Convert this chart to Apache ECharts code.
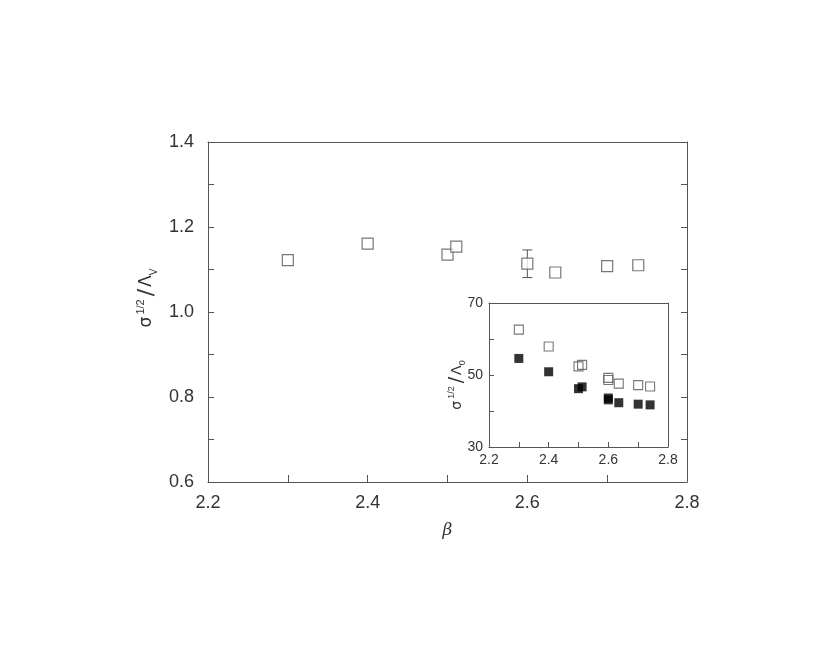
<!DOCTYPE html>
<html>
<head>
<meta charset="utf-8">
<script src="https://cdn.jsdelivr.net/npm/echarts@6/dist/echarts.min.js"></script>
<style>html,body{margin:0;padding:0;background:#fff;}#c{width:836px;height:646px;}</style>
</head>
<body>
<div id="c"></div>
<script>
// ---- data ----
var betaMain = [2.30, 2.40, 2.50, 2.511, 2.60, 2.635, 2.70, 2.739];
var ratioMain = [1.122, 1.161, 1.135, 1.154, 1.114, 1.093, 1.108, 1.110];
var errBeta = [2.60];
var errLow = [1.081];
var errHigh = [1.146];
var insetBeta = [2.30, 2.40, 2.50, 2.512, 2.60, 2.60, 2.635, 2.70, 2.74];
var insetOpen = [62.6, 57.9, 52.4, 52.8, 49.2, 48.6, 47.6, 47.2, 46.8];
var insetFilled = [54.6, 50.9, 46.2, 46.7, 43.6, 43.1, 42.3, 41.9, 41.7];
var mainXTicks = [2.2, 2.4, 2.6, 2.8];
var mainYTicks = [0.6, 0.8, 1.0, 1.2, 1.4];
var insetXTicks = [2.2, 2.4, 2.6, 2.8];
var insetYTicks = [30, 50, 70];

function zip(a, b) { return a.map(function (v, i) { return [v, b[i]]; }); }

var frame = '#555';
var txt = '#333';
var font = 'Liberation Sans';

function xAx(gridIndex, min, max, interval, fs, margin, tickLen, show) {
  return {
    gridIndex: gridIndex, type: 'value', min: min, max: max, interval: interval,
    axisLine: { show: true, onZero: false, lineStyle: { color: frame, width: 1 } },
    axisTick: { show: true, inside: true, length: tickLen, lineStyle: { color: frame } },
    minorTick: { show: true, splitNumber: 2, length: tickLen, lineStyle: { color: frame } },
    splitLine: { show: false },
    axisLabel: { show: show, color: txt, fontSize: fs, fontFamily: font, margin: margin,
      formatter: function (v) { return v.toFixed(1); } }
  };
}
function yAx(gridIndex, min, max, interval, fs, margin, tickLen, pos, show, fmt, ticks) {
  return {
    gridIndex: gridIndex, type: 'value', min: min, max: max, interval: interval, position: pos,
    axisLine: { show: true, onZero: false, lineStyle: { color: frame, width: 1 } },
    axisTick: { show: ticks, inside: true, length: tickLen, lineStyle: { color: frame } },
    minorTick: { show: ticks, splitNumber: 2, length: tickLen, lineStyle: { color: frame } },
    splitLine: { show: false },
    axisLabel: { show: show, color: txt, fontSize: fs, fontFamily: font, margin: margin, formatter: fmt }
  };
}

var chart = echarts.init(document.getElementById('c'), null, { renderer: 'canvas' });
var option = {
  animation: false,
  backgroundColor: '#fff',
  grid: [
    { left: 208, top: 142, width: 479, height: 340 },
    { left: 489, top: 303, width: 179, height: 144 }
  ],
  xAxis: [
    Object.assign(xAx(0, mainXTicks[0], mainXTicks[mainXTicks.length - 1], 0.2, 18, 12, 7, true), {
      name: 'β', nameLocation: 'middle', nameGap: 40,
      nameTextStyle: { fontFamily: 'DejaVu Serif', fontStyle: 'italic', fontSize: 17, color: txt }
    }),
    Object.assign(xAx(0, 2.2, 2.8, 0.2, 18, 12, 7, false), { position: 'top', axisTick: { show: false }, minorTick: { show: false } }),
    xAx(1, insetXTicks[0], insetXTicks[insetXTicks.length - 1], 0.2, 14, 6, 5, true),
    Object.assign(xAx(1, 2.2, 2.8, 0.2, 14, 6, 5, false), { position: 'top', axisTick: { show: false }, minorTick: { show: false } })
  ],
  yAxis: [
    yAx(0, mainYTicks[0], mainYTicks[mainYTicks.length - 1], 0.2, 18, 14, 6, 'left', true, function (v) { return v.toFixed(1); }, true),
    yAx(0, 0.6, 1.4, 0.2, 18, 14, 6, 'right', false, null, true),
    yAx(1, insetYTicks[0], insetYTicks[insetYTicks.length - 1], 20, 14, 6, 5, 'left', true, function (v) { return v % 20 === 10 ? String(v) : ''; }, true),
    yAx(1, 30, 70, 20, 14, 6, 5, 'right', false, null, false)
  ],
  graphic: [
    {
      type: 'text', x: 147, y: 298, rotation: Math.PI / 2,
      style: {
        text: '{s|σ}{sup|1/2}{sl|/}{s|Λ}{sub|V}',
        align: 'center', verticalAlign: 'middle', fill: txt,
        rich: {
          s: { fontSize: 17, fontFamily: 'DejaVu Sans', fill: txt, lineHeight: 24, verticalAlign: 'middle' },
          sup: { fontSize: 11, fontFamily: font, fill: txt, lineHeight: 24, verticalAlign: 'top', padding: [0, 3, 0, 2] },
          sl: { fontSize: 22, fontFamily: 'DejaVu Sans', fill: txt, lineHeight: 24, verticalAlign: 'middle', padding: [0, 2, 0, 0] },
          sub: { fontSize: 10, fontFamily: font, fill: txt, lineHeight: 24, verticalAlign: 'bottom' }
        }
      }
    },
    {
      type: 'text', x: 457, y: 385, rotation: Math.PI / 2,
      style: {
        text: '{s|σ}{sup|1/2}{sl|/}{s|Λ}{sub|0}',
        align: 'center', verticalAlign: 'middle', fill: txt,
        rich: {
          s: { fontSize: 14, fontFamily: 'DejaVu Sans', fill: txt, lineHeight: 20, verticalAlign: 'middle' },
          sup: { fontSize: 9, fontFamily: font, fill: txt, lineHeight: 20, verticalAlign: 'top', padding: [0, 3, 0, 2] },
          sl: { fontSize: 19, fontFamily: 'DejaVu Sans', fill: txt, lineHeight: 20, verticalAlign: 'middle', padding: [0, 2, 0, 0] },
          sub: { fontSize: 9, fontFamily: font, fill: txt, lineHeight: 20, verticalAlign: 'bottom' }
        }
      }
    }
  ],
  series: [
    {
      type: 'custom', xAxisIndex: 0, yAxisIndex: 0, z: 3,
      data: errBeta.map(function (b, i) { return [b, errLow[i], errHigh[i]]; }),
      renderItem: function (params, api) {
        var lo = api.coord([api.value(0), api.value(1)]);
        var hi = api.coord([api.value(0), api.value(2)]);
        var w = 5;
        return {
          type: 'group',
          children: [
            { type: 'line', shape: { x1: lo[0], y1: lo[1], x2: hi[0], y2: hi[1] }, style: { stroke: frame, lineWidth: 1 } },
            { type: 'line', shape: { x1: lo[0] - w, y1: lo[1], x2: lo[0] + w, y2: lo[1] }, style: { stroke: frame, lineWidth: 1 } },
            { type: 'line', shape: { x1: hi[0] - w, y1: hi[1], x2: hi[0] + w, y2: hi[1] }, style: { stroke: frame, lineWidth: 1 } }
          ]
        };
      }
    },
    {
      type: 'scatter', xAxisIndex: 0, yAxisIndex: 0, z: 4,
      symbol: 'rect', symbolSize: 11,
      itemStyle: { color: '#fff', borderColor: frame, borderWidth: 1.2 },
      data: zip(betaMain, ratioMain)
    },
    {
      type: 'scatter', xAxisIndex: 2, yAxisIndex: 2, z: 4,
      symbol: 'rect', symbolSize: 9,
      itemStyle: { color: 'rgba(255,255,255,0)', borderColor: frame, borderWidth: 1.1 },
      data: zip(insetBeta, insetOpen)
    },
    {
      type: 'scatter', xAxisIndex: 2, yAxisIndex: 2, z: 4,
      symbol: 'rect', symbolSize: 9,
      itemStyle: { color: '#000', borderColor: '#000', borderWidth: 0 },
      data: zip(insetBeta, insetFilled)
    }
  ]
};
chart.setOption(option);
</script>
</body>
</html>
